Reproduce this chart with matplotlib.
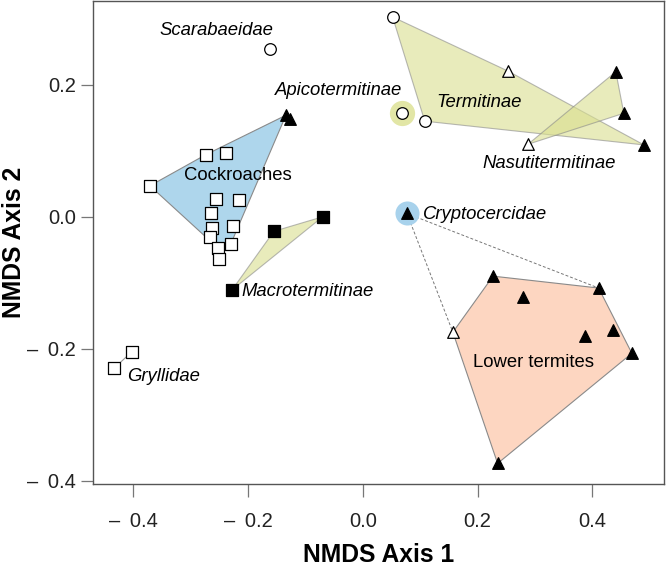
import numpy as np
import matplotlib
matplotlib.use("Agg")
import matplotlib.pyplot as plt
from matplotlib.ticker import FixedLocator, FuncFormatter

plt.rcParams['font.family'] = ['Liberation Sans', 'DejaVu Sans']

# NMDS scores
cockroach_x = [-0.371, -0.274, -0.239, -0.256, -0.216, -0.265, -0.263, -0.227, -0.267, -0.230, -0.253, -0.251]
cockroach_y = [0.047, 0.094, 0.097, 0.027, 0.025, 0.006, -0.017, -0.014, -0.031, -0.041, -0.047, -0.064]
apico_x = [-0.134, -0.127]
apico_y = [0.154, 0.148]
scarab_x = [-0.162]
scarab_y = [0.254]
macro_x = [-0.155, -0.070, -0.228]
macro_y = [-0.022, -0.000, -0.111]
gryllid_x = [-0.403, -0.434]
gryllid_y = [-0.205, -0.230]
# Termitinae: circles, one open triangle, one filled triangle
termit_circ_x = [0.052, 0.108]
termit_circ_y = [0.303, 0.145]
termit_extra_x = [0.068]
termit_extra_y = [0.157]
termit_open_tri_x = [0.253]
termit_open_tri_y = [0.221]
termit_fill_tri_x = [0.490]
termit_fill_tri_y = [0.109]
nasuti_open_x = [0.288]
nasuti_open_y = [0.110]
nasuti_fill_x = [0.441, 0.455]
nasuti_fill_y = [0.220, 0.157]
crypto_x = [0.077]
crypto_y = [0.005]
lower_fill_x = [0.227, 0.279, 0.411, 0.387, 0.436, 0.469, 0.235]
lower_fill_y = [-0.090, -0.121, -0.108, -0.180, -0.171, -0.207, -0.374]
lower_open_x = [0.157]
lower_open_y = [-0.175]

x_ticks = [-0.4, -0.2, 0.0, 0.2, 0.4]
y_ticks = [-0.4, -0.2, 0.0, 0.2]


def hull(xs, ys):
    pts = sorted(set(zip(xs, ys)))
    def cross(o, a, b):
        return (a[0] - o[0]) * (b[1] - o[1]) - (a[1] - o[1]) * (b[0] - o[0])
    lower, upper = [], []
    for p in pts:
        while len(lower) >= 2 and cross(lower[-2], lower[-1], p) <= 0:
            lower.pop()
        lower.append(p)
    for p in reversed(pts):
        while len(upper) >= 2 and cross(upper[-2], upper[-1], p) <= 0:
            upper.pop()
        upper.append(p)
    h = lower[:-1] + upper[:-1]
    return [p[0] for p in h], [p[1] for p in h]


fig = plt.figure(figsize=(6.66, 5.74), dpi=100)
ax = fig.add_axes([0.139, 0.157, 0.858, 0.841])

edge = '#8a8a8a'
yellow = '#d9df8f'

# hulls
hx, hy = hull(cockroach_x[:11] + apico_x[:1], cockroach_y[:11] + apico_y[:1])
ax.fill(hx, hy, facecolor='#aed6ec', edgecolor=edge, lw=0.8, zorder=1)

hx, hy = hull(macro_x, macro_y)
ax.fill(hx, hy, facecolor=yellow, alpha=0.6, edgecolor=edge, lw=0.8, zorder=1)

hx, hy = hull(termit_circ_x + termit_open_tri_x + termit_fill_tri_x,
              termit_circ_y + termit_open_tri_y + termit_fill_tri_y)
ax.fill(hx, hy, facecolor=yellow, alpha=0.6, edgecolor=edge, lw=0.8, zorder=1)

hx, hy = hull(nasuti_open_x + nasuti_fill_x, nasuti_open_y + nasuti_fill_y)
ax.fill(hx, hy, facecolor=yellow, alpha=0.6, edgecolor=edge, lw=0.8, zorder=1)

hx, hy = hull(lower_fill_x + lower_open_x, lower_fill_y + lower_open_y)
ax.fill(hx, hy, facecolor='#fdd6c1', edgecolor=edge, lw=0.8, zorder=1)

# dashed links from Cryptocercidae to the lower termite hull
for tx, ty in [(lower_open_x[0], lower_open_y[0]), (lower_fill_x[2], lower_fill_y[2])]:
    ax.plot([crypto_x[0], tx], [crypto_y[0], ty], ls=(0, (3, 2)), color='#777777', lw=0.7, zorder=1)

ax.plot(gryllid_x, gryllid_y, color='#999999', lw=0.8, zorder=1)

# halos
ax.scatter(termit_extra_x, termit_extra_y, s=330, color='#e2e6a6', lw=0, zorder=2)
ax.scatter(crypto_x, crypto_y, s=300, color='#a8d2ec', lw=0, zorder=2)

ms = 70
open_kw = dict(facecolor='white', edgecolor='black', linewidths=0.9, zorder=3)
fill_kw = dict(facecolor='black', edgecolor='black', linewidths=0.9, zorder=3)

ax.scatter(cockroach_x, cockroach_y, marker='s', s=ms, **open_kw)
ax.scatter(gryllid_x, gryllid_y, marker='s', s=ms, **open_kw)
ax.scatter(macro_x, macro_y, marker='s', s=ms, **fill_kw)
ax.scatter(scarab_x, scarab_y, marker='o', s=ms, **open_kw)
ax.scatter(termit_circ_x + termit_extra_x, termit_circ_y + termit_extra_y, marker='o', s=ms, **open_kw)
ax.scatter(termit_open_tri_x + nasuti_open_x + lower_open_x,
           termit_open_tri_y + nasuti_open_y + lower_open_y, marker='^', s=ms, **open_kw)
ax.scatter(apico_x + termit_fill_tri_x + nasuti_fill_x + crypto_x + lower_fill_x,
           apico_y + termit_fill_tri_y + nasuti_fill_y + crypto_y + lower_fill_y,
           marker='^', s=ms, **fill_kw)

# labels
fs = 13.3
ax.text(-0.255, 0.283, 'Scarabaeidae', style='italic', fontsize=fs, ha='center', va='center')
ax.text(-0.153, 0.192, 'Apicotermitinae', style='italic', fontsize=fs, ha='left', va='center')
ax.text(0.202, 0.174, 'Termitinae', style='italic', fontsize=fs, ha='center', va='center')
ax.text(0.325, 0.081, 'Nasutitermitinae', style='italic', fontsize=fs, ha='center', va='center')
ax.text(0.105, 0.003, 'Cryptocercidae', style='italic', fontsize=fs, ha='left', va='center')
ax.text(0.298, -0.221, 'Lower termites', fontsize=fs, ha='center', va='center')
ax.text(-0.218, 0.062, 'Cockroaches', fontsize=fs, ha='center', va='center')
ax.text(-0.211, -0.113, 'Macrotermitinae', style='italic', fontsize=fs, ha='left', va='center')
ax.text(-0.410, -0.242, 'Gryllidae', style='italic', fontsize=fs, ha='left', va='center')

ax.set_xlim(-0.471, 0.525)
ax.set_ylim(-0.405, 0.327)


def fmt(v, pos):
    if v < -1e-9:
        return f'\u2013 \u2009{abs(v):.1f}'
    return f'{abs(v):.1f}'


ax.xaxis.set_major_locator(FixedLocator(x_ticks))
ax.yaxis.set_major_locator(FixedLocator(y_ticks))
ax.xaxis.set_major_formatter(FuncFormatter(fmt))
ax.yaxis.set_major_formatter(FuncFormatter(fmt))
ax.tick_params(direction='out', length=9, width=0.9, color='#777777',
               labelsize=14.5, labelcolor='#222222', pad=3)
ax.tick_params(axis='x', pad=11)
for s in ax.spines.values():
    s.set_color('#555555')
    s.set_linewidth(1.0)

ax.set_xlabel('NMDS Axis 1', fontsize=17.7, fontweight='bold')
ax.set_ylabel('NMDS Axis 2', fontsize=17.7, fontweight='bold')
ax.xaxis.set_label_coords(0.5, -0.122)
ax.yaxis.set_label_coords(-0.117, 0.5)

fig.savefig('out.png', dpi=100)
